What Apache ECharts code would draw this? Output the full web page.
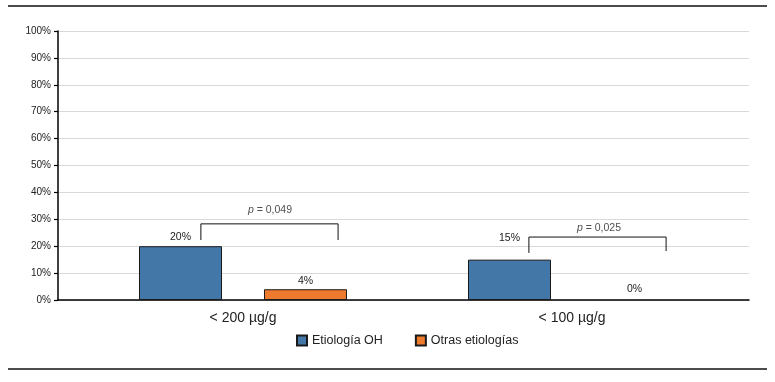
<!DOCTYPE html>
<html><head><meta charset="utf-8">
<script src="https://cdn.jsdelivr.net/npm/echarts@6/dist/echarts.min.js"></script>
<style>html,body{margin:0;padding:0;background:#fff}#c{width:775px;height:382px}</style>
</head><body><div id="c"></div>
<script>
const categories = ['< 200 µg/g', '< 100 µg/g'];
const seriesNames = ['Etiología OH', 'Otras etiologías'];
const valuesOH = [20, 15];
const valuesOtras = [4, 0];
const yTicks = [0, 10, 20, 30, 40, 50, 60, 70, 80, 90, 100];
// brackets in (category-position, percent) units
const bracket1 = [[0.372, 22.3], [0.372, 28.3], [0.789, 28.3], [0.789, 22.3]];
const bracket2 = [[1.369, 17.5], [1.369, 23.4], [1.786, 23.4], [1.786, 18.2]];
const pTexts = [[0.582, 33.5, '0,049'], [1.582, 26.8, '0,025']];

const FONT = '"Liberation Sans", Arial, sans-serif';
const chart = echarts.init(document.getElementById('c'), null, {renderer: 'canvas'});
const gTop = 31, gBottom = 82;
chart.setOption({
  animation: false,
  textStyle: {fontFamily: FONT},
  grid: [
    {left: 58, right: 26, top: gTop, bottom: gBottom},
    {left: 78.5, right: 38.5, top: gTop, bottom: gBottom}
  ],
  xAxis: [
    {gridIndex: 0, type: 'category', data: ['a'], axisLine: {lineStyle: {color: '#000', width: 1.5}}, axisTick: {show: false}, axisLabel: {show: false}},
    {gridIndex: 1, type: 'category', data: categories, axisLine: {show: false}, axisTick: {show: false},
      axisLabel: {fontFamily: FONT, fontSize: 14, color: '#222', margin: 11}},
    {gridIndex: 1, type: 'value', min: 0, max: 2, show: false}
  ],
  yAxis: [
    {gridIndex: 0, type: 'value', min: 0, max: 100, interval: 10,
      axisLine: {show: true, lineStyle: {color: '#000', width: 1.5}},
      axisTick: {show: true, length: 4, lineStyle: {color: '#000', width: 1.2}},
      axisLabel: {fontFamily: FONT, fontSize: 10, color: '#222', margin: 7,
        formatter: v => yTicks.includes(v) ? v + '%' : ''},
      splitLine: {lineStyle: {color: '#d9d9d9', width: 1}}},
    {gridIndex: 1, type: 'value', min: 0, max: 100, show: false}
  ],
  legend: {
    data: seriesNames, bottom: 30, left: 291, itemWidth: 10, itemHeight: 10, itemGap: 32,
    icon: 'rect', textStyle: {fontFamily: FONT, fontSize: 12.5, color: '#222'}
  },
  series: [
    {name: seriesNames[0], type: 'bar', xAxisIndex: 1, yAxisIndex: 1, data: valuesOH,
      barWidth: 83, barGap: '50.6%',
      itemStyle: {color: '#4277A7', borderColor: '#1a1a1a', borderWidth: 1},
      label: {show: true, position: 'top', distance: 4, formatter: '{c}%', fontFamily: FONT, fontSize: 10.5, color: '#222'},
      labelLayout: p => p.dataIndex === 1 ? {dy: -12} : {}
    },
    {name: seriesNames[1], type: 'bar', xAxisIndex: 1, yAxisIndex: 1,
      data: valuesOtras.map(v => v === 0 ? {value: v, itemStyle: {borderWidth: 0}} : v),
      barWidth: 83,
      itemStyle: {color: '#EE7A2E', borderColor: '#1a1a1a', borderWidth: 1},
      label: {show: true, position: 'top', distance: 3, formatter: '{c}%', fontFamily: FONT, fontSize: 10.5, color: '#222'},
      labelLayout: p => p.dataIndex === 1 ? {dy: -2} : {}
    },
    {type: 'line', xAxisIndex: 2, yAxisIndex: 1, data: bracket1, symbol: 'none', silent: true,
      lineStyle: {color: '#111', width: 1}},
    {type: 'line', xAxisIndex: 2, yAxisIndex: 1, data: bracket2, symbol: 'none', silent: true,
      lineStyle: {color: '#111', width: 1}},
    {type: 'scatter', xAxisIndex: 2, yAxisIndex: 1, symbolSize: 0, silent: true,
      data: pTexts.map(d => ({value: [d[0], d[1]], t: d[2]})),
      label: {show: true, position: 'inside', fontFamily: FONT, fontSize: 10.5, color: '#222',
        formatter: p => '{i|p} = ' + p.data.t,
        rich: {i: {fontStyle: 'italic', fontFamily: FONT, fontSize: 10.5, color: '#222'}}}
    }
  ],
  graphic: [
    {type: 'line', shape: {x1: 8, y1: 6, x2: 767, y2: 6}, style: {stroke: '#111', lineWidth: 1.5}},
    {type: 'line', shape: {x1: 8, y1: 369, x2: 767, y2: 369}, style: {stroke: '#111', lineWidth: 1.5}}
  ]
});
</script></body></html>
